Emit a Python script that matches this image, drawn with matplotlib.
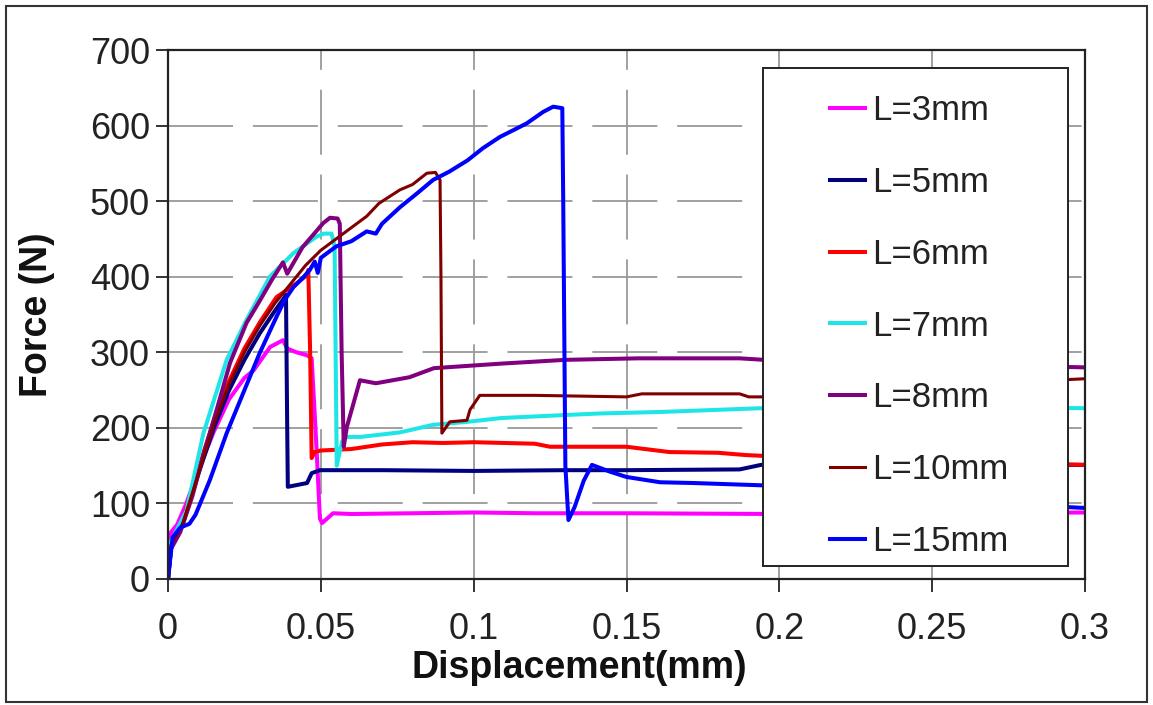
import matplotlib
matplotlib.use("Agg")
import matplotlib.pyplot as plt
from matplotlib.patches import Rectangle

plt.rcParams['font.family'] = ['Liberation Sans', 'DejaVu Sans']

# force-displacement curves
x_3 = [0, 0.0005, 0.001, 0.003, 0.006, 0.010, 0.015, 0.020, 0.025, 0.028, 0.0334, 0.0376, 0.039, 0.042, 0.0455,
       0.047, 0.0485, 0.0497, 0.0504, 0.054, 0.06, 0.08, 0.10, 0.12, 0.15, 0.20, 0.25, 0.30]
y_3 = [0, 40, 62, 72, 100, 145, 195, 238, 266, 276, 307, 316, 305, 300, 296,
       292, 180, 80, 74, 87, 86, 87, 88, 87, 87, 86, 87, 88]

x_5 = [0, 0.001, 0.003, 0.005, 0.010, 0.015, 0.020, 0.025, 0.030, 0.035, 0.038, 0.0386, 0.0390, 0.0392,
       0.0455, 0.047, 0.0497, 0.07, 0.10, 0.13, 0.15, 0.187, 0.194, 0.20, 0.25, 0.30]
y_5 = [0, 45, 62, 75, 140, 200, 250, 290, 325, 355, 372, 376, 200, 122,
       127, 140, 144, 144, 143, 144, 144, 145, 151, 152, 151, 151]

x_6 = [0, 0.001, 0.004, 0.008, 0.012, 0.016, 0.020, 0.025, 0.0301, 0.0355, 0.042, 0.0454, 0.0459, 0.0465,
       0.0470, 0.048, 0.050, 0.060, 0.070, 0.080, 0.090, 0.100, 0.120, 0.125, 0.150, 0.164, 0.180, 0.189,
       0.200, 0.250, 0.300]
y_6 = [0, 42, 68, 118, 172, 222, 262, 305, 340, 373, 391, 402, 409, 300,
       160, 168, 170, 172, 178, 181, 180, 181, 179, 175, 175, 168, 167, 164,
       162, 157, 151]

x_7 = [0, 0.001, 0.003, 0.0061, 0.0116, 0.0192, 0.0257, 0.0333, 0.041, 0.0486, 0.051, 0.0535, 0.0545,
       0.0552, 0.0560, 0.0570, 0.0585, 0.063, 0.0759, 0.0867, 0.098, 0.109, 0.130, 0.141, 0.161, 0.194,
       0.250, 0.300]
y_7 = [0, 50, 66, 91, 193, 290, 343, 400, 431, 453, 457, 457, 440,
       150, 165, 182, 188, 188, 194, 204, 208, 213, 217, 219, 221, 226,
       228, 226]

x_8 = [0, 0.001, 0.004, 0.008, 0.012, 0.016, 0.0203, 0.0257, 0.030, 0.034, 0.0376, 0.039, 0.044, 0.0508,
       0.053, 0.0555, 0.0562, 0.0568, 0.0575, 0.0585, 0.0628, 0.068, 0.079, 0.087, 0.109, 0.130, 0.154,
       0.187, 0.195, 0.250, 0.300]
y_8 = [0, 40, 62, 110, 170, 225, 286, 339, 368, 396, 419, 404, 439, 471,
       478, 477, 470, 300, 175, 201, 263, 259, 267, 279, 285, 290, 292,
       292, 290, 285, 280]

x_10 = [0, 0.001, 0.003, 0.005, 0.010, 0.015, 0.020, 0.025, 0.030, 0.035, 0.040, 0.045, 0.050, 0.055,
        0.060, 0.065, 0.069, 0.0759, 0.080, 0.0847, 0.0875, 0.0890, 0.0893, 0.0896, 0.0922, 0.0978,
        0.0988, 0.102, 0.120, 0.150, 0.155, 0.187, 0.190, 0.200, 0.250, 0.300]
y_10 = [0, 45, 60, 75, 140, 205, 258, 300, 335, 365, 390, 415, 435, 450,
        465, 480, 497, 515, 522, 537, 538, 528, 400, 193, 208, 210,
        224, 243, 243, 241, 245, 245, 241, 241, 255, 265]

x_15 = [0, 0.0015, 0.004, 0.007, 0.009, 0.0137, 0.0192, 0.0246, 0.030, 0.0355, 0.038, 0.041, 0.044,
        0.0464, 0.048, 0.049, 0.050, 0.052, 0.055, 0.060, 0.065, 0.068, 0.070, 0.0759, 0.0814, 0.0867,
        0.092, 0.098, 0.103, 0.1086, 0.114, 0.1174, 0.1227, 0.126, 0.129, 0.1293, 0.1300, 0.1310,
        0.1330, 0.1360, 0.1387, 0.1446, 0.150, 0.161, 0.172, 0.194, 0.250, 0.290, 0.300]
y_15 = [0, 55, 68, 73, 85, 131, 193, 246, 299, 347, 368, 386, 398,
        409, 420, 405, 425, 431, 440, 447, 460, 457, 470, 492, 510, 528,
        539, 554, 570, 585, 596, 603, 618, 625, 623, 500, 150, 78,
        95, 130, 151, 142, 135, 128, 127, 124, 110, 96, 94]

labels = ['L=3mm', 'L=5mm', 'L=6mm', 'L=7mm', 'L=8mm', 'L=10mm', 'L=15mm']
colors = ['#ff00ff', '#000080', '#ff0000', '#1ee6e6', '#800080', '#800000', '#0000ff']
xs = [x_3, x_5, x_6, x_7, x_8, x_10, x_15]
ys = [y_3, y_5, y_6, y_7, y_8, y_10, y_15]

fig = plt.figure(figsize=(11.53, 7.05), dpi=100)
ax = fig.add_axes([168/1153, 1-579/705, 917/1153, 529/705])

for x, y, lab, c in zip(xs, ys, labels, colors):
    lw = 2.2 if lab == 'L=10mm' else 2.9
    ax.plot(x, y, color=c, lw=lw, label=lab, solid_joinstyle='round')

ax.set_xlim(0, 0.3)
ax.set_ylim(0, 700)
ax.set_xticks([0, 0.05, 0.1, 0.15, 0.2, 0.25, 0.3])
ax.set_xticklabels(['0', '0.05', '0.1', '0.15', '0.2', '0.25', '0.3'])
ax.set_yticks(range(0, 701, 100))
ax.tick_params(axis='both', direction='out', length=9, width=1.3, labelsize=26,
               labelcolor='#222', color='#222')
ax.tick_params(axis='x', pad=15)
ax.tick_params(axis='y', pad=4)
for s in ax.spines.values():
    s.set_color('#222')
    s.set_linewidth(1.6)

ax.grid(True, color='#999999', lw=1.3, linestyle=(0, (36, 11)))
ax.set_axisbelow(True)

ax.set_xlabel('Displacement(mm)', fontsize=27, fontweight='bold', color='#111')
ax.xaxis.set_label_coords(0.448, -0.134)
ax.set_ylabel('Force (N)', fontsize=27, fontweight='bold', color='#111')
ax.yaxis.set_label_coords(-0.123, 0.5)

# legend box sits over the curves
ax.add_patch(Rectangle((0.649, 0.0245), 0.332, 0.9415, transform=ax.transAxes,
                       facecolor='white', edgecolor='#222', lw=1.4, zorder=4.5))
leg = ax.legend(loc='upper left', bbox_to_anchor=(0.722, 0.916), frameon=False,
                fontsize=25, handlelength=1.0, handletextpad=0.2, labelspacing=1.115,
                borderpad=0, borderaxespad=0)
leg.set_zorder(5)
for t in leg.get_texts():
    t.set_color('#222')

fig.patches.append(Rectangle((0.005, 0.004), 0.99, 0.988, transform=fig.transFigure,
                             fill=False, edgecolor='#333', lw=1.5))

fig.savefig('out.png', dpi=100)
